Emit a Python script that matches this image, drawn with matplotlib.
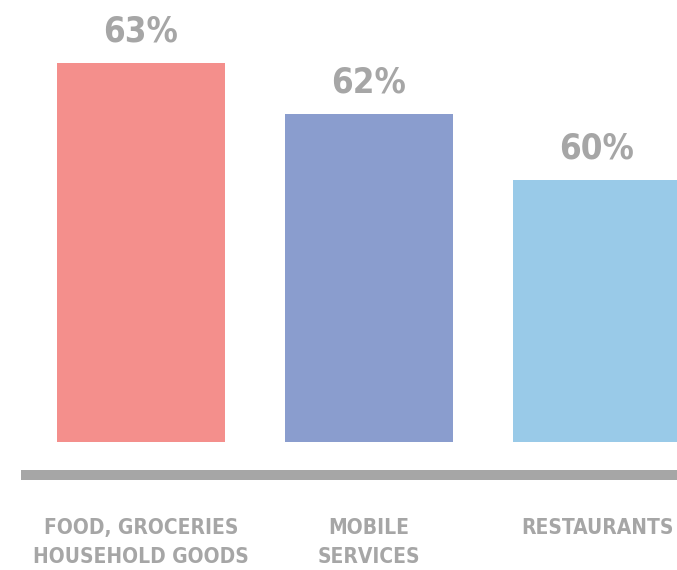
import matplotlib
matplotlib.use("Agg")
import matplotlib.pyplot as plt
import matplotlib.transforms as mtransforms
from matplotlib.lines import Line2D
from matplotlib import font_manager
import numpy as np

categories = ["FOOD, GROCERIES\nHOUSEHOLD GOODS", "MOBILE\nSERVICES", "RESTAURANTS"]
values = [63.4, 62.1, 60.4]
value_labels = ["63%", "62%", "60%"]
colors = ["#F48F8C", "#8A9DCE", "#99CAE8"]

base = 53.68
W, H = 677, 570
fig = plt.figure(figsize=(W / 100, H / 100), dpi=100)
ax = fig.add_axes([0, 0, 1, 1])
ax.set_xlim(-141 / 228, (677 - 141) / 228)
ax.set_ylim(base - 128 / 39, base + 442 / 39)
ax.axis("off")

x = np.arange(len(categories))
heights = [v - base for v in values]
ax.bar(x, heights, bottom=base, width=168 / 228, color=colors)

txt_color = "#A6A6A6"
cond = [f for f in font_manager.fontManager.ttflist
        if "Condensed" in f.fname or "Narrow" in f.fname]
cands = [f for f in cond if "Bold" in f.fname and "Oblique" not in f.fname
         and "Italic" not in f.fname and "Light" not in f.fname]
if cands:
    path = sorted(cands, key=lambda f: ("DejaVu" not in f.fname, f.fname))[0].fname
    fp_big = font_manager.FontProperties(fname=path, size=25)
    fp_small = font_manager.FontProperties(fname=path, size=15)
else:
    fp_big = font_manager.FontProperties(family="DejaVu Sans", weight="bold", size=23)
    fp_small = font_manager.FontProperties(family="DejaVu Sans", weight="bold", size=12.5)

for xi, v, lab in zip(x, values, value_labels):
    ax.annotate(lab, (xi, v), xytext=(0, 15.5), textcoords="offset points",
                ha="center", va="baseline", fontproperties=fp_big,
                color=txt_color)

# baseline rule
fig.add_artist(Line2D([21 / W, 1.0], [1 - 475 / H, 1 - 475 / H],
                      transform=fig.transFigure, color=txt_color, lw=7.2,
                      solid_capstyle="butt"))

trans = mtransforms.blended_transform_factory(ax.transData, fig.transFigure)
for xi, cat in zip(x, categories):
    ax.text(xi, 1 - 518 / H, cat, transform=trans, ha="center", va="top",
            fontproperties=fp_small, color=txt_color,
            linespacing=1.55, clip_on=False)

fig.savefig("out.png", dpi=100)
